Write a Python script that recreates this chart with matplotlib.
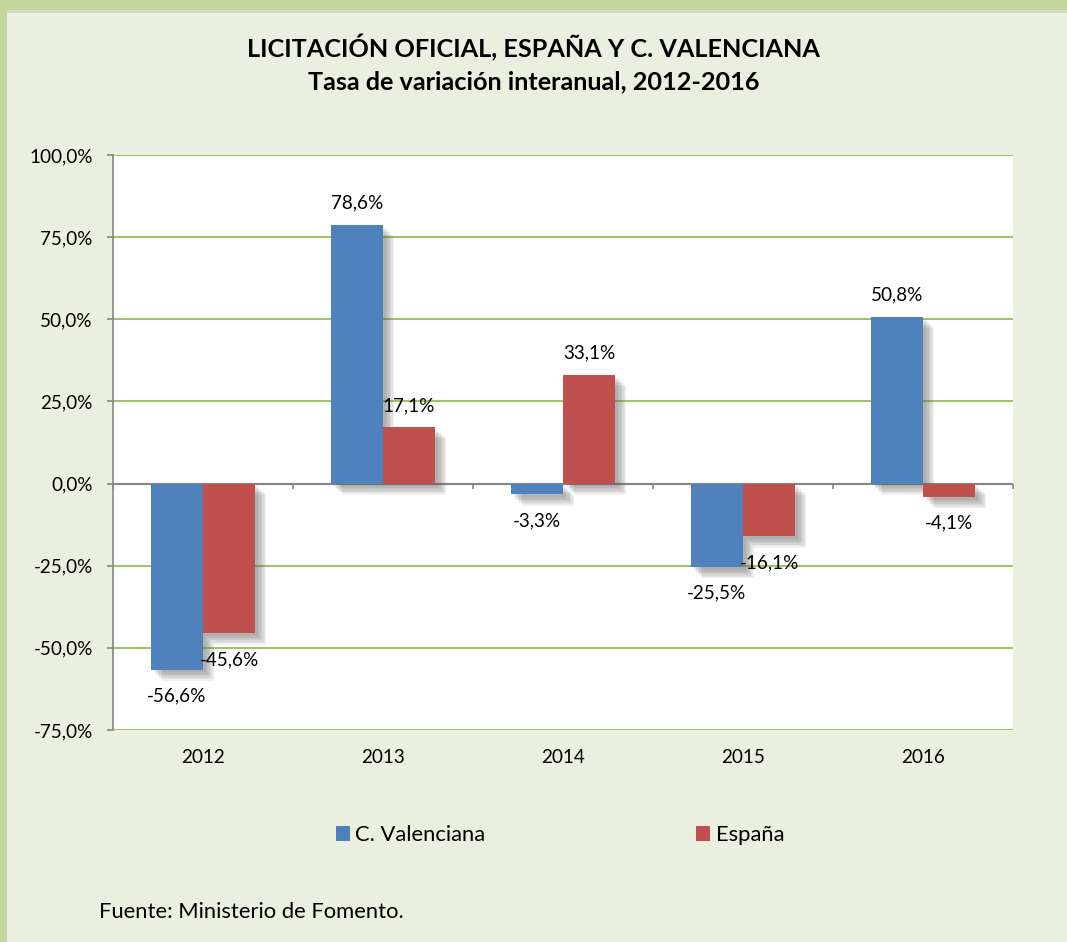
import matplotlib
matplotlib.use("Agg")
import matplotlib.pyplot as plt
import matplotlib.patheffects as pe
from matplotlib.patches import Rectangle, Patch
import numpy as np

# data
years = ["2012", "2013", "2014", "2015", "2016"]
valenciana = [-56.6, 78.6, -3.3, -25.5, 50.8]
espana = [-45.6, 17.1, 33.1, -16.1, -4.1]
series_names = ["C. Valenciana", "España"]
yticks = [-75, -50, -25, 0, 25, 50, 75, 100]

blue = "#4F81BD"
red = "#C0504D"
grid_green = "#A4C26C"
bg = "#EBEFDF"
frame = "#C3D69B"

plt.rcParams["font.family"] = ["Lato", "DejaVu Sans"]
fs = 13.6

fig = plt.figure(figsize=(10.67, 9.42), dpi=100, facecolor=frame)
# inner panel
fig.patches.append(Rectangle((7 / 1067, 0), 1, 1 - 10 / 942, transform=fig.transFigure,
                             facecolor=bg, edgecolor="none", zorder=-10))
fig.patches.append(Rectangle((7 / 1067, 1 - 13 / 942), 1, 3 / 942, transform=fig.transFigure,
                             facecolor="#D3D8C8", edgecolor="none", zorder=-10))

ax = fig.add_axes([113 / 1067, 1 - 730 / 942, 900 / 1067, 575 / 942])
ax.set_facecolor("white")

x = np.arange(len(years))
w = 0.29
# soft shadow: a few stacked faint offsets
shadow = [pe.SimplePatchShadow(offset=(d, -d), shadow_rgbFace="#606060", alpha=0.09)
          for d in (2, 3, 4, 5, 6, 7, 8)] + [pe.Normal()]
b1 = ax.bar(x - w / 2, valenciana, w, color=blue, zorder=3)
b2 = ax.bar(x + w / 2, espana, w, color=red, zorder=3)
for b in list(b1) + list(b2):
    b.set_path_effects(shadow)


def fmt(v):
    return f"{v:.1f}%".replace(".", ",")


for bars, vals in ((b1, valenciana), (b2, espana)):
    for bar, v in zip(bars, vals):
        off = 22 if v >= 0 else -26
        ax.annotate(fmt(v), (bar.get_x() + bar.get_width() / 2, v),
                    xytext=(0, off), textcoords="offset pixels",
                    ha="center", va="center", fontsize=fs, zorder=5)

ax.set_xlim(-0.5, len(years) - 0.5)
ax.set_ylim(yticks[0], yticks[-1])
ax.set_yticks(yticks)
ax.set_yticklabels([fmt(t) for t in yticks], fontsize=fs)
ax.yaxis.grid(True, color=grid_green, linewidth=1.5, zorder=1)
ax.set_axisbelow(True)
ax.tick_params(axis="y", length=4.5, width=1.2, color="#868686", pad=10)

ax.set_xticks(x)
ax.set_xticklabels(years, fontsize=fs)
ax.tick_params(axis="x", length=0, pad=14)

for s in ["top", "right", "bottom"]:
    ax.spines[s].set_visible(False)
ax.spines["left"].set_color("#868686")
ax.spines["left"].set_linewidth(1.2)

# zero axis line with category separator ticks
ax.axhline(0, color="#868686", linewidth=1.5, zorder=2)
bounds = np.arange(len(years) + 1) - 0.5
ax.vlines(bounds, -1.7, 0, color="#868686", linewidth=1.2, zorder=2, clip_on=False)

fig.text(0.5, 1 - 48 / 942, "LICITACIÓN OFICIAL, ESPAÑA Y C. VALENCIANA",
         ha="center", va="center", fontsize=18.2, fontweight="bold")
fig.text(0.5, 1 - 82 / 942, "Tasa de variación interanual, 2012-2016",
         ha="center", va="center", fontsize=18.2, fontweight="bold")

handles = [Patch(facecolor=blue), Patch(facecolor=red)]
fig.legend(handles=handles, labels=series_names, loc="center",
           bbox_to_anchor=(560 / 1067, 1 - 835 / 942), ncol=2, frameon=False,
           fontsize=15.8, handlelength=0.65, handleheight=0.65, handletextpad=0.25,
           columnspacing=9.6)

fig.text(99 / 1067, 1 - 912 / 942, "Fuente: Ministerio de Fomento.",
         ha="left", va="center", fontsize=15.8)

fig.savefig("out.png", dpi=100, facecolor=fig.get_facecolor())
